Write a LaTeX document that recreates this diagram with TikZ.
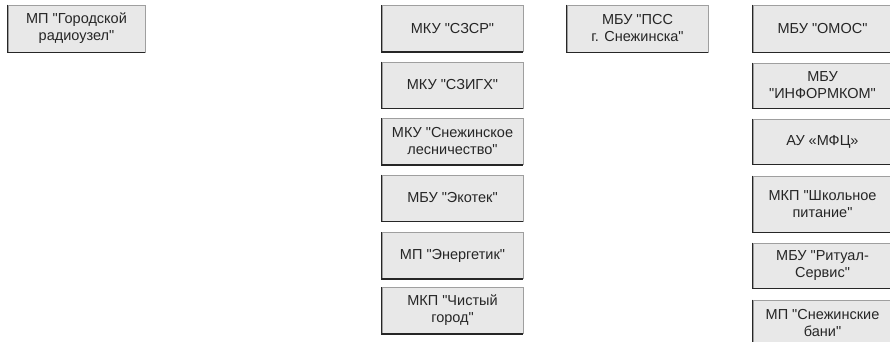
\documentclass[tikz,border=0pt]{standalone}
\usepackage{fontspec}
\setmainfont{Liberation Sans}[Ligatures=TeXOff]
\begin{document}
\begin{tikzpicture}[x=1pt,y=-1pt,
  orgbox/.style={draw=gray!75, line width=0.8pt, fill=gray!18, minimum width=141pt, minimum height=46pt,
    inner sep=0pt, align=center, text=black!85, font=\fontsize{14.5}{17}\selectfont},
  shade/.style={draw=black!85, line width=1.4pt}]
\useasboundingbox (0,0) rectangle (890,341);
% column 1
\node[orgbox, minimum width=137pt, minimum height=47pt] (gr) at (76.5,28.5) {МП "Городской\\радиоузел"};
% column 2
\node[orgbox] (szsr) at (452.5,28.5) {МКУ "СЗСР"};
\node[orgbox] (szigh) at (452.5,85) {МКУ "СЗИГХ"};
\node[orgbox] (les) at (452.5,141.5) {МКУ "Снежинское\\лесничество"};
\node[orgbox] (ekotek) at (452.5,198) {МБУ "Экотек"};
\node[orgbox] (energ) at (452.5,255.5) {МП "Энергетик"};
\node[orgbox] (chist) at (452.5,310.5) {МКП "Чистый\\город"};
% column 3
\node[orgbox, minimum height=47pt] (pss) at (637.5,28.5) {МБУ "ПСС\\г. Снежинска"};
% column 4
\node[orgbox, minimum width=139pt, minimum height=47pt] (omos) at (822.5,28.5) {МБУ "ОМОС"};
\node[orgbox, minimum width=139pt, minimum height=45pt] (inf) at (822.5,85.5) {МБУ\\"ИНФОРМКОМ"};
\node[orgbox, minimum width=139pt, minimum height=45pt] (mfc) at (822.5,141.5) {АУ «МФЦ»};
\node[orgbox, minimum width=139pt, minimum height=56pt] (shk) at (822.5,204) {МКП "Школьное\\питание"};
\node[orgbox, minimum width=139pt, minimum height=45pt] (rit) at (822.5,265.5) {МБУ "Ритуал-\\Сервис"};
\node[orgbox, minimum width=139pt, minimum height=45pt] (ban) at (822.5,322.5) {МП "Снежинские\\бани"};
\foreach \n in {gr,szsr,szigh,les,ekotek,energ,chist,pss,omos,inf,mfc,shk,rit,ban}
  \draw[shade] (\n.north west) -- (\n.south west) -- (\n.south east);
\end{tikzpicture}
\end{document}
